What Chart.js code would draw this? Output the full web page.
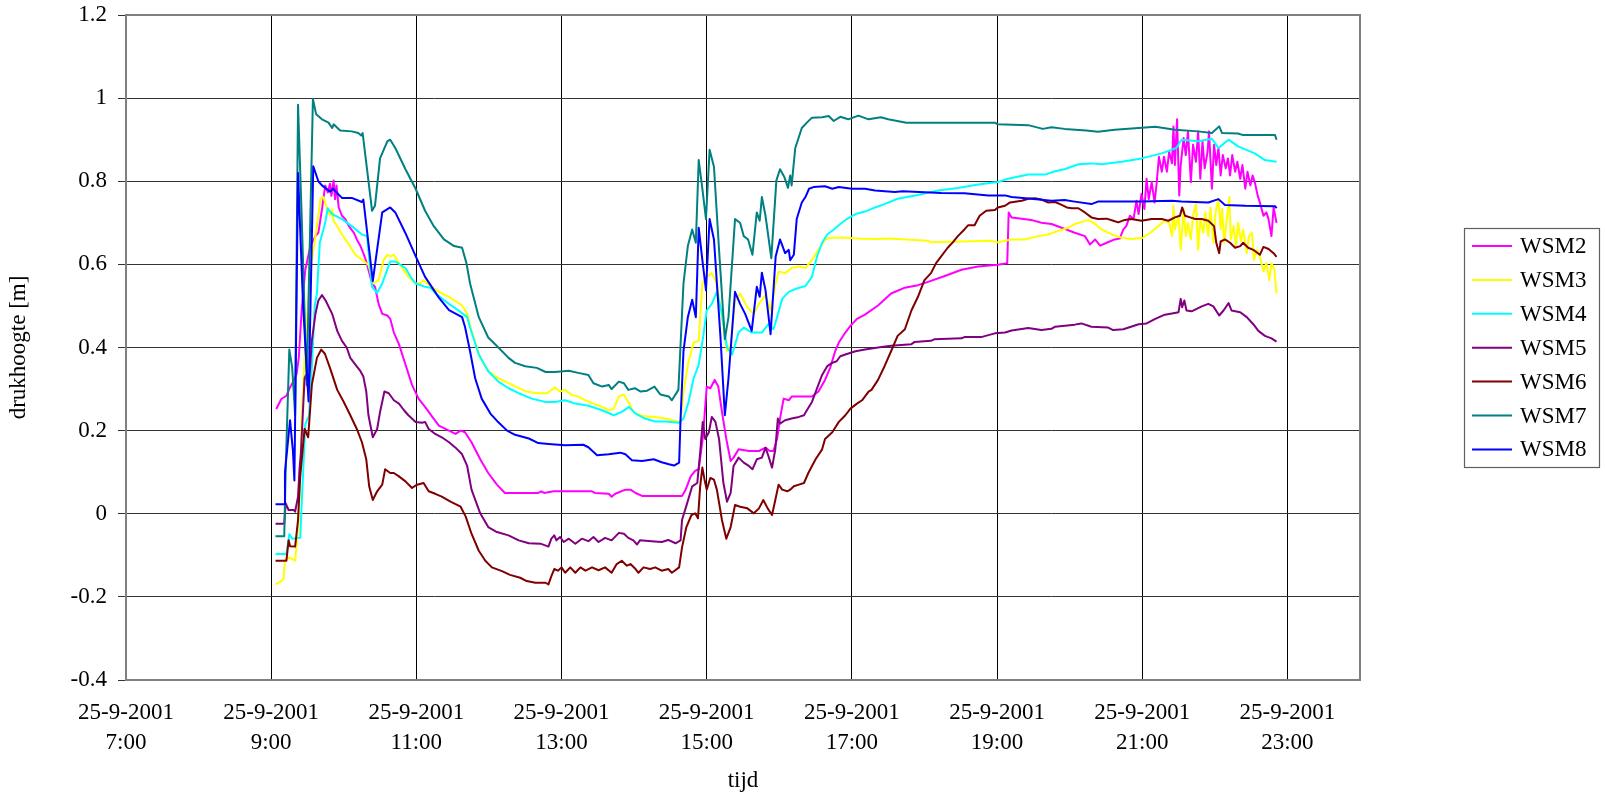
<!DOCTYPE html>
<html>
<head>
<meta charset="utf-8">
<title>drukhoogte WSM2 - WSM8</title>
<script src="https://cdn.jsdelivr.net/npm/chart.js"></script>
<style>
  html, body { margin: 0; padding: 0; background: #ffffff; }
  #chart { display: block; }
</style>
</head>
<body>
<canvas id="chart" width="1605" height="800"></canvas>
<script>
// Pressure head per monitoring well, [hour of day, metres]
const WSM2 = [[9.07,0.252],[9.14,0.276],[9.21,0.284],[9.26,0.304],[9.31,0.32],[9.35,0.336],[9.38,0.375],[9.42,0.489],[9.47,0.587],[9.54,0.644],[9.61,0.668],[9.65,0.676],[9.70,0.733],[9.745,0.79],[9.78,0.773],[9.81,0.794],[9.83,0.765],[9.86,0.802],[9.88,0.757],[9.9,0.79],[9.93,0.737],[9.975,0.717],[10.02,0.709],[10.07,0.692],[10.14,0.676],[10.18,0.66],[10.23,0.644],[10.27,0.627],[10.31,0.607],[10.34,0.587],[10.39,0.554],[10.43,0.546],[10.48,0.505],[10.53,0.481],[10.6,0.477],[10.64,0.469],[10.69,0.436],[10.76,0.408],[10.85,0.359],[10.94,0.31],[11.03,0.277],[11.12,0.257],[11.22,0.233],[11.31,0.212],[11.45,0.2],[11.54,0.192],[11.61,0.2],[11.67,0.196],[11.76,0.172],[11.88,0.131],[11.99,0.098],[12.11,0.07],[12.22,0.05],[12.5,0.05],[12.68,0.05],[12.72,0.054],[12.76,0.05],[12.89,0.054],[13.42,0.054],[13.46,0.05],[13.65,0.048],[13.69,0.041],[13.74,0.048],[13.88,0.058],[13.95,0.058],[14.02,0.05],[14.11,0.043],[14.66,0.043],[14.71,0.058],[14.78,0.09],[14.84,0.103],[14.89,0.107],[14.95,0.188],[15.0,0.306],[15.05,0.302],[15.11,0.322],[15.16,0.306],[15.21,0.245],[15.27,0.18],[15.33,0.127],[15.37,0.135],[15.44,0.155],[15.58,0.151],[15.72,0.151],[15.81,0.159],[15.87,0.151],[15.92,0.151],[15.97,0.18],[16.01,0.229],[16.06,0.277],[16.13,0.273],[16.17,0.282],[16.45,0.282],[16.54,0.294],[16.63,0.322],[16.70,0.351],[16.77,0.391],[16.82,0.412],[16.91,0.436],[16.98,0.452],[17.07,0.469],[17.18,0.479],[17.36,0.501],[17.54,0.53],[17.73,0.544],[17.91,0.55],[18.05,0.558],[18.28,0.572],[18.51,0.587],[18.74,0.595],[19.01,0.599],[19.14,0.603],[19.16,0.725],[19.2,0.713],[19.34,0.71],[19.47,0.707],[19.61,0.7],[19.75,0.697],[19.89,0.688],[20.07,0.676],[20.21,0.668],[20.28,0.648],[20.35,0.66],[20.42,0.645],[20.51,0.652],[20.62,0.66],[20.69,0.662],[20.74,0.684],[20.78,0.692],[20.83,0.717],[20.88,0.709],[20.92,0.753],[20.95,0.721],[20.99,0.77],[21.03,0.733],[21.06,0.806],[21.09,0.757],[21.13,0.798],[21.17,0.749],[21.2,0.798],[21.23,0.859],[21.27,0.823],[21.3,0.859],[21.34,0.823],[21.37,0.871],[21.41,0.843],[21.43,0.932],[21.45,0.839],[21.48,0.949],[21.51,0.766],[21.53,0.839],[21.57,0.904],[21.6,0.863],[21.63,0.92],[21.67,0.798],[21.7,0.888],[21.74,0.847],[21.77,0.92],[21.8,0.806],[21.83,0.896],[21.86,0.831],[21.9,0.871],[21.92,0.92],[21.96,0.782],[21.99,0.888],[22.02,0.839],[22.05,0.88],[22.08,0.814],[22.11,0.863],[22.15,0.831],[22.18,0.855],[22.21,0.814],[22.24,0.863],[22.28,0.823],[22.31,0.847],[22.35,0.806],[22.38,0.839],[22.42,0.782],[22.45,0.823],[22.49,0.79],[22.52,0.814],[22.55,0.798],[22.59,0.766],[22.62,0.749],[22.67,0.717],[22.71,0.725],[22.74,0.709],[22.78,0.668],[22.81,0.737],[22.85,0.70]];

const WSM3 = [[9.06,-0.17],[9.14,-0.162],[9.17,-0.156],[9.19,-0.111],[9.25,-0.105],[9.33,-0.113],[9.38,-0.015],[9.42,0.229],[9.47,0.408],[9.54,0.587],[9.61,0.668],[9.68,0.758],[9.72,0.762],[9.77,0.733],[9.81,0.717],[9.84,0.733],[9.86,0.705],[9.91,0.692],[9.975,0.672],[10.07,0.648],[10.16,0.623],[10.25,0.611],[10.34,0.599],[10.41,0.554],[10.48,0.562],[10.55,0.611],[10.6,0.623],[10.64,0.619],[10.69,0.623],[10.76,0.603],[10.89,0.57],[10.99,0.554],[11.05,0.554],[11.1,0.562],[11.17,0.55],[11.31,0.534],[11.45,0.522],[11.63,0.501],[11.7,0.481],[11.76,0.44],[11.88,0.375],[11.99,0.343],[12.13,0.326],[12.32,0.31],[12.5,0.295],[12.66,0.29],[12.8,0.29],[12.91,0.304],[12.98,0.294],[13.05,0.298],[13.14,0.286],[13.23,0.282],[13.33,0.273],[13.44,0.265],[13.56,0.257],[13.65,0.249],[13.72,0.253],[13.79,0.282],[13.86,0.287],[13.92,0.269],[13.99,0.245],[14.11,0.235],[14.29,0.233],[14.43,0.229],[14.64,0.22],[14.68,0.294],[14.75,0.367],[14.82,0.412],[14.89,0.416],[14.94,0.554],[15.0,0.57],[15.07,0.579],[15.14,0.554],[15.21,0.473],[15.28,0.391],[15.33,0.408],[15.39,0.513],[15.46,0.53],[15.56,0.497],[15.65,0.481],[15.72,0.505],[15.81,0.526],[15.88,0.489],[15.95,0.554],[15.99,0.583],[16.08,0.579],[16.17,0.591],[16.27,0.595],[16.36,0.591],[16.45,0.611],[16.54,0.635],[16.63,0.66],[16.7,0.664],[16.91,0.664],[17.09,0.662],[17.32,0.661],[17.5,0.662],[18.05,0.657],[18.09,0.653],[18.92,0.657],[19.01,0.653],[19.2,0.66],[19.38,0.66],[19.57,0.668],[19.7,0.672],[19.84,0.68],[19.98,0.688],[20.07,0.697],[20.26,0.707],[20.35,0.697],[20.44,0.684],[20.58,0.672],[20.72,0.664],[20.85,0.661],[21.01,0.664],[21.11,0.676],[21.22,0.692],[21.31,0.705],[21.37,0.7],[21.41,0.668],[21.43,0.741],[21.45,0.684],[21.5,0.717],[21.53,0.635],[21.57,0.733],[21.6,0.668],[21.63,0.7],[21.67,0.66],[21.7,0.717],[21.74,0.745],[21.77,0.635],[21.8,0.709],[21.84,0.676],[21.87,0.725],[21.91,0.668],[21.94,0.737],[21.98,0.652],[22.01,0.725],[22.05,0.758],[22.08,0.684],[22.1,0.733],[22.13,0.652],[22.16,0.70],[22.2,0.762],[22.22,0.66],[22.26,0.692],[22.29,0.644],[22.32,0.70],[22.36,0.656],[22.39,0.684],[22.44,0.627],[22.47,0.668],[22.51,0.676],[22.54,0.611],[22.58,0.635],[22.62,0.619],[22.67,0.583],[22.71,0.603],[22.75,0.562],[22.78,0.603],[22.82,0.587],[22.85,0.53]];

const WSM4 = [[9.06,-0.097],[9.21,-0.097],[9.25,-0.049],[9.29,-0.06],[9.4,-0.058],[9.43,0.06],[9.47,0.215],[9.49,0.224],[9.52,0.235],[9.56,0.35],[9.6,0.5],[9.63,0.53],[9.67,0.652],[9.74,0.697],[9.78,0.735],[9.84,0.721],[9.975,0.709],[10.11,0.692],[10.25,0.672],[10.32,0.668],[10.39,0.546],[10.46,0.531],[10.53,0.554],[10.64,0.607],[10.71,0.607],[10.85,0.591],[10.92,0.57],[10.99,0.554],[11.12,0.546],[11.19,0.544],[11.29,0.526],[11.45,0.505],[11.58,0.489],[11.7,0.473],[11.74,0.448],[11.86,0.383],[11.99,0.343],[12.13,0.318],[12.27,0.302],[12.41,0.29],[12.59,0.277],[12.78,0.269],[12.91,0.269],[13.05,0.273],[13.19,0.265],[13.37,0.26],[13.56,0.249],[13.72,0.237],[13.83,0.245],[13.93,0.257],[14.02,0.241],[14.15,0.229],[14.29,0.222],[14.43,0.222],[14.62,0.219],[14.68,0.229],[14.75,0.269],[14.82,0.326],[14.89,0.359],[14.95,0.424],[15.0,0.489],[15.07,0.505],[15.14,0.534],[15.21,0.481],[15.28,0.4],[15.35,0.383],[15.44,0.436],[15.51,0.448],[15.62,0.436],[15.76,0.436],[15.85,0.456],[15.92,0.444],[15.97,0.473],[16.04,0.517],[16.13,0.534],[16.24,0.542],[16.36,0.548],[16.45,0.57],[16.52,0.619],[16.59,0.652],[16.66,0.672],[16.75,0.684],[16.84,0.697],[16.93,0.709],[17.05,0.721],[17.18,0.727],[17.32,0.737],[17.45,0.745],[17.63,0.758],[17.91,0.767],[18.19,0.778],[18.46,0.784],[18.74,0.792],[19.01,0.798],[19.15,0.806],[19.43,0.816],[19.66,0.816],[19.8,0.824],[19.93,0.829],[20.12,0.841],[20.3,0.843],[20.44,0.841],[20.72,0.847],[20.99,0.855],[21.27,0.867],[21.47,0.88],[21.54,0.9],[21.77,0.896],[21.96,0.902],[22.05,0.88],[22.19,0.9],[22.32,0.884],[22.55,0.867],[22.69,0.851],[22.85,0.847]];

const WSM5 = [[9.06,-0.024],[9.18,-0.024],[9.2,0.025],[9.24,0.009],[9.31,0.009],[9.33,0.005],[9.37,0.041],[9.39,0.106],[9.41,0.147],[9.46,0.326],[9.48,0.334],[9.515,0.294],[9.56,0.416],[9.61,0.481],[9.65,0.513],[9.7,0.526],[9.75,0.513],[9.84,0.481],[9.91,0.44],[9.975,0.416],[10.04,0.4],[10.09,0.375],[10.16,0.359],[10.23,0.343],[10.27,0.33],[10.31,0.294],[10.34,0.237],[10.4,0.184],[10.46,0.204],[10.5,0.245],[10.56,0.294],[10.62,0.29],[10.69,0.273],[10.76,0.265],[10.83,0.249],[10.89,0.237],[10.99,0.221],[11.08,0.219],[11.12,0.221],[11.17,0.204],[11.26,0.192],[11.35,0.184],[11.45,0.172],[11.54,0.159],[11.63,0.143],[11.7,0.115],[11.76,0.058],[11.88,0.001],[11.99,-0.032],[12.11,-0.044],[12.27,-0.052],[12.41,-0.064],[12.55,-0.071],[12.71,-0.072],[12.82,-0.079],[12.86,-0.06],[12.9,-0.052],[12.93,-0.064],[12.98,-0.056],[13.03,-0.068],[13.1,-0.06],[13.19,-0.072],[13.28,-0.06],[13.37,-0.066],[13.44,-0.056],[13.51,-0.068],[13.6,-0.058],[13.69,-0.064],[13.79,-0.046],[13.86,-0.048],[13.92,-0.058],[13.99,-0.064],[14.04,-0.074],[14.08,-0.064],[14.24,-0.066],[14.38,-0.068],[14.47,-0.063],[14.57,-0.071],[14.64,-0.064],[14.66,-0.015],[14.73,0.025],[14.8,0.066],[14.87,0.074],[14.91,0.147],[14.945,0.221],[14.98,0.18],[15.03,0.196],[15.07,0.233],[15.12,0.221],[15.17,0.18],[15.23,0.074],[15.28,0.029],[15.33,0.05],[15.37,0.115],[15.44,0.135],[15.51,0.123],[15.58,0.115],[15.63,0.107],[15.69,0.131],[15.76,0.135],[15.81,0.159],[15.85,0.139],[15.9,0.111],[15.945,0.155],[15.98,0.229],[16.01,0.217],[16.08,0.225],[16.17,0.229],[16.27,0.233],[16.34,0.237],[16.38,0.249],[16.45,0.269],[16.52,0.302],[16.59,0.334],[16.66,0.355],[16.73,0.363],[16.79,0.367],[16.84,0.379],[16.91,0.383],[17.05,0.391],[17.18,0.395],[17.36,0.4],[17.54,0.404],[17.82,0.408],[17.86,0.413],[18.09,0.416],[18.14,0.42],[18.51,0.422],[18.55,0.425],[18.78,0.425],[18.97,0.434],[19.11,0.436],[19.2,0.441],[19.43,0.447],[19.61,0.442],[19.75,0.445],[19.8,0.45],[20.07,0.455],[20.16,0.458],[20.3,0.45],[20.53,0.448],[20.6,0.442],[20.74,0.444],[20.95,0.456],[21.06,0.458],[21.18,0.469],[21.31,0.479],[21.41,0.482],[21.5,0.485],[21.53,0.517],[21.55,0.497],[21.58,0.513],[21.61,0.489],[21.68,0.487],[21.75,0.493],[21.82,0.499],[21.91,0.505],[21.98,0.499],[22.06,0.477],[22.12,0.489],[22.19,0.507],[22.23,0.489],[22.35,0.485],[22.44,0.473],[22.53,0.456],[22.6,0.44],[22.69,0.428],[22.78,0.422],[22.85,0.414]];

const WSM6 = [[9.06,-0.113],[9.21,-0.113],[9.24,-0.064],[9.26,-0.078],[9.33,-0.079],[9.37,-0.015],[9.4,0.09],[9.46,0.204],[9.51,0.184],[9.56,0.31],[9.63,0.375],[9.69,0.395],[9.74,0.385],[9.81,0.351],[9.91,0.298],[10.0,0.269],[10.09,0.237],[10.18,0.204],[10.25,0.172],[10.31,0.131],[10.35,0.066],[10.4,0.033],[10.46,0.054],[10.53,0.07],[10.57,0.107],[10.64,0.098],[10.69,0.098],[10.76,0.09],[10.85,0.078],[10.94,0.062],[11.01,0.07],[11.1,0.074],[11.17,0.054],[11.26,0.048],[11.35,0.041],[11.47,0.029],[11.61,0.017],[11.68,-0.007],[11.76,-0.048],[11.86,-0.089],[11.95,-0.113],[12.04,-0.129],[12.18,-0.138],[12.29,-0.147],[12.43,-0.154],[12.52,-0.162],[12.64,-0.166],[12.78,-0.166],[12.82,-0.17],[12.86,-0.15],[12.9,-0.133],[12.95,-0.137],[13.0,-0.129],[13.05,-0.142],[13.12,-0.129],[13.19,-0.142],[13.26,-0.129],[13.33,-0.137],[13.42,-0.129],[13.51,-0.136],[13.6,-0.129],[13.69,-0.142],[13.76,-0.121],[13.83,-0.113],[13.9,-0.125],[13.95,-0.121],[14.02,-0.133],[14.06,-0.142],[14.13,-0.129],[14.22,-0.133],[14.29,-0.129],[14.38,-0.137],[14.47,-0.133],[14.52,-0.142],[14.62,-0.129],[14.66,-0.081],[14.72,-0.032],[14.79,-0.003],[14.84,0.001],[14.88,-0.011],[14.91,0.066],[14.94,0.111],[14.97,0.082],[15.0,0.058],[15.05,0.086],[15.1,0.082],[15.14,0.058],[15.21,-0.015],[15.27,-0.06],[15.33,-0.032],[15.39,0.021],[15.46,0.017],[15.56,0.013],[15.65,0.001],[15.72,0.013],[15.78,0.033],[15.84,0.013],[15.9,-0.003],[15.945,0.033],[15.99,0.07],[16.04,0.058],[16.11,0.054],[16.15,0.058],[16.2,0.066],[16.27,0.07],[16.34,0.074],[16.4,0.098],[16.5,0.131],[16.59,0.155],[16.63,0.18],[16.73,0.196],[16.82,0.221],[16.91,0.237],[16.98,0.253],[17.07,0.265],[17.14,0.273],[17.23,0.294],[17.27,0.298],[17.36,0.322],[17.45,0.355],[17.54,0.391],[17.63,0.428],[17.73,0.444],[17.82,0.489],[17.91,0.522],[18.0,0.562],[18.09,0.579],[18.16,0.603],[18.23,0.619],[18.32,0.64],[18.39,0.653],[18.46,0.668],[18.55,0.684],[18.6,0.694],[18.69,0.694],[18.76,0.717],[18.85,0.729],[18.97,0.731],[19.01,0.737],[19.11,0.741],[19.18,0.749],[19.34,0.753],[19.43,0.758],[19.52,0.759],[19.61,0.756],[19.7,0.749],[19.8,0.75],[19.89,0.743],[19.96,0.737],[20.03,0.735],[20.12,0.735],[20.21,0.725],[20.3,0.713],[20.39,0.709],[20.51,0.71],[20.6,0.705],[20.67,0.701],[20.76,0.707],[20.85,0.709],[20.99,0.705],[21.13,0.709],[21.27,0.709],[21.36,0.705],[21.45,0.713],[21.52,0.717],[21.55,0.737],[21.59,0.717],[21.66,0.713],[21.73,0.709],[21.82,0.709],[21.91,0.705],[21.99,0.692],[22.02,0.652],[22.06,0.627],[22.08,0.655],[22.14,0.66],[22.21,0.652],[22.28,0.64],[22.35,0.644],[22.39,0.652],[22.46,0.64],[22.53,0.635],[22.62,0.623],[22.67,0.642],[22.74,0.637],[22.81,0.627],[22.85,0.618]];

const WSM7 = [[9.06,-0.054],[9.18,-0.054],[9.2,0.107],[9.25,0.395],[9.29,0.351],[9.33,0.237],[9.37,0.984],[9.42,0.717],[9.49,0.31],[9.52,0.554],[9.575,0.998],[9.62,0.961],[9.7,0.949],[9.79,0.941],[9.84,0.928],[9.86,0.937],[9.95,0.922],[10.11,0.92],[10.2,0.916],[10.24,0.91],[10.26,0.916],[10.32,0.83],[10.39,0.729],[10.43,0.741],[10.5,0.855],[10.6,0.896],[10.64,0.9],[10.71,0.88],[10.85,0.829],[10.99,0.782],[11.12,0.729],[11.24,0.692],[11.38,0.66],[11.52,0.644],[11.63,0.64],[11.69,0.603],[11.74,0.554],[11.86,0.473],[11.99,0.424],[12.13,0.4],[12.27,0.375],[12.36,0.363],[12.5,0.355],[12.66,0.351],[12.78,0.341],[12.91,0.341],[13.1,0.344],[13.23,0.339],[13.37,0.334],[13.44,0.314],[13.56,0.306],[13.65,0.31],[13.69,0.3],[13.79,0.318],[13.86,0.314],[13.92,0.298],[14.01,0.302],[14.09,0.294],[14.18,0.296],[14.28,0.306],[14.36,0.287],[14.48,0.282],[14.52,0.273],[14.61,0.298],[14.64,0.408],[14.68,0.554],[14.74,0.644],[14.8,0.684],[14.85,0.652],[14.89,0.851],[14.94,0.782],[14.99,0.709],[15.04,0.876],[15.1,0.835],[15.17,0.635],[15.25,0.42],[15.3,0.473],[15.39,0.709],[15.46,0.7],[15.51,0.668],[15.57,0.66],[15.63,0.623],[15.69,0.725],[15.73,0.705],[15.76,0.762],[15.81,0.717],[15.89,0.615],[15.96,0.802],[16.01,0.829],[16.07,0.81],[16.12,0.784],[16.15,0.814],[16.17,0.79],[16.22,0.88],[16.31,0.928],[16.38,0.941],[16.45,0.953],[16.59,0.954],[16.68,0.957],[16.75,0.945],[16.84,0.955],[16.95,0.949],[17.09,0.958],[17.23,0.949],[17.4,0.954],[17.5,0.949],[17.75,0.941],[18.97,0.941],[19.01,0.937],[19.43,0.935],[19.63,0.926],[19.75,0.93],[19.93,0.926],[20.23,0.922],[20.39,0.919],[20.62,0.924],[20.95,0.928],[21.18,0.931],[21.45,0.924],[21.77,0.92],[21.96,0.916],[22.06,0.932],[22.1,0.916],[22.32,0.915],[22.39,0.911],[22.83,0.911],[22.85,0.9]];

const WSM8 = [[9.06,0.023],[9.18,0.023],[9.19,0.1],[9.26,0.225],[9.3,0.15],[9.32,0.08],[9.37,0.82],[9.44,0.5],[9.515,0.27],[9.58,0.836],[9.65,0.8],[9.7,0.79],[9.81,0.775],[9.85,0.782],[9.975,0.76],[10.11,0.76],[10.25,0.75],[10.27,0.756],[10.4,0.56],[10.53,0.725],[10.64,0.737],[10.71,0.725],[10.85,0.675],[10.99,0.62],[11.12,0.57],[11.31,0.52],[11.45,0.49],[11.63,0.473],[11.67,0.45],[11.74,0.391],[11.81,0.326],[11.9,0.277],[12.02,0.241],[12.13,0.22],[12.25,0.2],[12.36,0.19],[12.55,0.181],[12.68,0.17],[12.82,0.168],[13.05,0.165],[13.3,0.166],[13.37,0.16],[13.49,0.141],[13.65,0.143],[13.81,0.147],[13.88,0.143],[13.97,0.129],[14.11,0.127],[14.27,0.131],[14.38,0.124],[14.48,0.119],[14.55,0.116],[14.62,0.123],[14.64,0.229],[14.68,0.391],[14.74,0.473],[14.8,0.515],[14.85,0.473],[14.89,0.688],[14.94,0.611],[14.99,0.538],[15.04,0.709],[15.1,0.66],[15.19,0.424],[15.25,0.237],[15.3,0.326],[15.39,0.534],[15.46,0.505],[15.53,0.481],[15.62,0.44],[15.69,0.546],[15.73,0.522],[15.76,0.58],[15.81,0.538],[15.88,0.432],[15.95,0.619],[16.01,0.66],[16.08,0.627],[16.13,0.635],[16.15,0.61],[16.2,0.623],[16.24,0.709],[16.31,0.749],[16.36,0.762],[16.41,0.782],[16.47,0.786],[16.63,0.788],[16.73,0.782],[16.82,0.786],[17.0,0.782],[17.18,0.782],[17.32,0.778],[17.59,0.774],[17.7,0.776],[18.23,0.772],[18.55,0.771],[18.88,0.766],[19.11,0.766],[19.2,0.762],[19.47,0.758],[19.75,0.753],[19.93,0.755],[20.07,0.751],[20.3,0.745],[20.39,0.751],[20.99,0.751],[21.41,0.753],[21.54,0.751],[21.91,0.749],[22.05,0.757],[22.14,0.743],[22.42,0.741],[22.83,0.74],[22.85,0.735]];

const seriesNames  = ['WSM2', 'WSM3', 'WSM4', 'WSM5', 'WSM6', 'WSM7', 'WSM8'];
const seriesData   = [WSM2, WSM3, WSM4, WSM5, WSM6, WSM7, WSM8];
const seriesColors = ['#FF00FF', '#FFFF00', '#00FFFF', '#800080', '#800000', '#008080', '#0000FF'];

// Axis labelling
const tickDate  = '25-9-2001';
const tickHours = [7, 9, 11, 13, 15, 17, 19, 21, 23];
const yTitle = 'drukhoogte [m]';
const xTitle = 'tijd';

const FONT = "'Liberation Serif', 'Times New Roman', serif";
const FONT_SIZE = 23;

// Frame around the plotting area
const plotFrame = {
  id: 'plotFrame',
  afterDatasetsDraw(chart) {
    const { ctx, chartArea: a } = chart;
    ctx.save();
    ctx.strokeStyle = '#808080';
    ctx.lineWidth = 2;
    ctx.strokeRect(a.left, a.top, a.right - a.left, a.bottom - a.top);
    ctx.restore();
  }
};

// Boxed legend to the right of the plot
const boxedLegend = {
  id: 'boxedLegend',
  afterDraw(chart) {
    const { ctx } = chart;
    const sets = chart.data.datasets;
    const x0 = 1464, y0 = 228, w = 135, h = 239;
    const rowTop = 246, rowStep = 33.9;
    ctx.save();
    ctx.fillStyle = '#ffffff';
    ctx.fillRect(x0, y0, w, h);
    ctx.strokeStyle = '#606060';
    ctx.lineWidth = 1.2;
    ctx.strokeRect(x0 + 0.5, y0 + 0.5, w, h);
    ctx.font = FONT_SIZE + 'px ' + FONT;
    ctx.textBaseline = 'middle';
    ctx.textAlign = 'left';
    sets.forEach((ds, i) => {
      const y = rowTop + i * rowStep;
      ctx.strokeStyle = ds.borderColor;
      ctx.lineWidth = 2;
      ctx.beginPath();
      ctx.moveTo(x0 + 8, y);
      ctx.lineTo(x0 + 48, y);
      ctx.stroke();
      ctx.fillStyle = '#000000';
      ctx.fillText(ds.label, x0 + 56, y + 1);
    });
    ctx.restore();
  }
};

const datasets = seriesNames.map((name, i) => ({
  label: name,
  data: seriesData[i],
  borderColor: seriesColors[i],
  backgroundColor: seriesColors[i],
  borderWidth: 2,
  borderJoinStyle: 'round',
  pointRadius: 0,
  pointHoverRadius: 0,
  tension: 0,
  fill: false,
  order: seriesNames.length - i
}));

new Chart(document.getElementById('chart'), {
  type: 'line',
  data: { datasets },
  plugins: [plotFrame, boxedLegend],
  options: {
    responsive: false,
    animation: false,
    devicePixelRatio: 1,
    layout: { padding: { top: 15, right: 245, bottom: 0, left: 0 } },
    plugins: {
      legend: { display: false },
      tooltip: { enabled: false }
    },
    scales: {
      x: {
        type: 'linear',
        min: 7,
        max: 24,
        afterBuildTicks(scale) {
          scale.ticks = tickHours.map(v => ({ value: v }));
        },
        afterFit(scale) { scale.height = 120; },
        ticks: {
          autoSkip: false,
          maxRotation: 0,
          minRotation: 0,
          padding: 18,
          color: '#000000',
          font: { family: FONT, size: FONT_SIZE, lineHeight: 30 / FONT_SIZE },
          callback: (v) => [tickDate, v + ':00']
        },
        grid: { color: '#000000', lineWidth: 1, drawTicks: false },
        border: { display: false },
        title: {
          display: true,
          text: xTitle,
          color: '#000000',
          font: { family: FONT, size: FONT_SIZE, lineHeight: 1.2 },
          padding: { top: 0, bottom: 5 }
        }
      },
      y: {
        type: 'linear',
        min: -0.4,
        max: 1.2,
        afterFit(scale) {
          scale.width = 126;
          scale.paddingTop = 0;
          scale.paddingBottom = 0;
        },
        ticks: {
          stepSize: 0.2,
          padding: 11,
          color: '#000000',
          font: { family: FONT, size: FONT_SIZE },
          callback: (v) => String(Math.round(v * 10) / 10)
        },
        grid: { color: '#333333', lineWidth: 1, tickLength: 8 },
        border: { display: false },
        title: {
          display: true,
          text: yTitle,
          color: '#000000',
          font: { family: FONT, size: FONT_SIZE, lineHeight: 1.2 },
          padding: { top: 5, bottom: 0 }
        }
      }
    }
  }
});
</script>
</body>
</html>
